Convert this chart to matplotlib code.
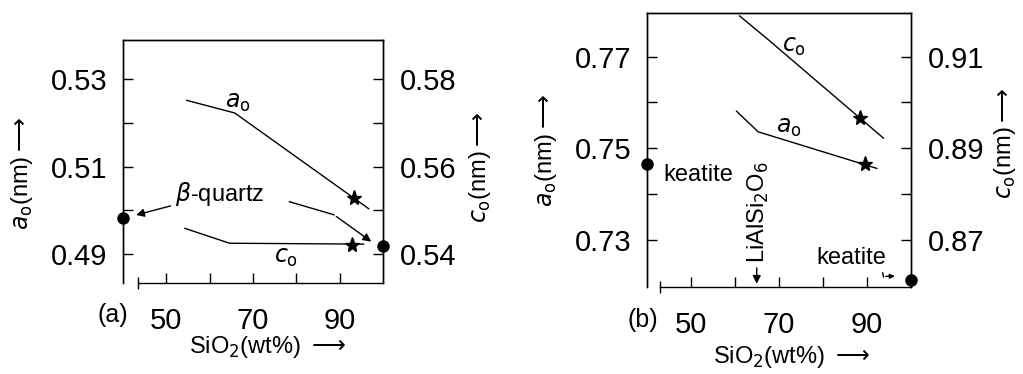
import matplotlib
matplotlib.use("Agg")
import matplotlib.pyplot as plt

plt.rcParams['font.family'] = ['Liberation Sans', 'DejaVu Sans']
plt.rcParams['mathtext.fontset'] = 'dejavusans'

# panel (a): beta-quartz solid solutions
a_ao_x = [54.7, 65.8, 96.7]
a_ao_y = [0.5252, 0.5223, 0.5004]
a_co_x = [54.3, 64.6, 95.5]
a_co_y = [0.5459, 0.5425, 0.5423]
a_star_ao = (93.2, 0.5029)
a_star_co = (92.9, 0.5420)
a_quartz_ao = (40, 0.4982)
a_quartz_co = (100, 0.5418)

# panel (b): keatite solid solutions
b_co_x = [61.1, 67.5, 93.8]
b_co_y = [0.9189, 0.9138, 0.8922]
b_ao_x = [60.4, 65.3, 92.3]
b_ao_y = [0.7581, 0.7536, 0.7456]
b_star_co = (88.5, 0.8965)
b_star_ao = (89.5, 0.7465)
b_keatite_ao = (40, 0.7465)
b_keatite_co = (100, 0.8612)

xticks = [50, 60, 70, 80, 90]
xticklabels = ['50', '', '70', '', '90']

fig = plt.figure(figsize=(10.23, 3.74), dpi=100)
ax1 = fig.add_axes([0.1202, 0.2433, 0.2542, 0.6497])
ax2 = fig.add_axes([0.6322, 0.2326, 0.2581, 0.7334])

lbl = 17
tick_fs = 21
arrow_kw = dict(arrowstyle='-|>', color='k', lw=1.0, mutation_scale=12)
ARR = r'$\longrightarrow$'


def style(ax, tw, ylim, yticks, ylabels, tyticks, tylabels, xstart):
    ax.set_xlim(40, 100)
    ax.set_ylim(*ylim)
    tw.set_ylim(ylim[0] + (tyticks[0] - yticks[0]), ylim[1] + (tyticks[0] - yticks[0]))
    ax.set_xticks(xticks)
    ax.set_xticklabels(xticklabels)
    ax.set_xticks([xstart], minor=True)
    ax.set_yticks(yticks)
    ax.set_yticklabels(ylabels)
    tw.set_yticks(tyticks)
    tw.set_yticklabels(tylabels)
    ax.tick_params(axis='both', which='major', direction='in', length=7, width=1,
                   labelsize=tick_fs)
    ax.tick_params(axis='x', pad=17)
    ax.tick_params(axis='y', pad=11)
    ax.tick_params(axis='x', which='minor', direction='inout', length=8, width=1)
    ax.tick_params(axis='y', which='minor', left=False)
    tw.tick_params(axis='y', direction='in', length=7, width=1, labelsize=tick_fs, pad=12)
    ax.spines['bottom'].set_bounds(xstart, 100)
    for s in ax.spines.values():
        s.set_linewidth(1.0)
    for s in tw.spines.values():
        s.set_linewidth(1.0)


# ---- panel (a)
tw1 = ax1.twinx()
style(ax1, tw1, (0.4834, 0.539),
      [0.49, 0.50, 0.51, 0.52, 0.53], ['0.49', '', '0.51', '', '0.53'],
      [0.54, 0.55, 0.56, 0.57, 0.58], ['0.54', '', '0.56', '', '0.58'], 43.5)
tw1.spines['bottom'].set_visible(False)

ax1.plot(a_ao_x, a_ao_y, color='k', lw=1.0)
tw1.plot(a_co_x, a_co_y, color='k', lw=1.0)
ax1.plot(*a_star_ao, marker='*', color='k', ms=11, clip_on=False)
tw1.plot(*a_star_co, marker='*', color='k', ms=11, clip_on=False)
ax1.plot(*a_quartz_ao, marker='o', color='k', ms=8, clip_on=False)
tw1.plot(*a_quartz_co, marker='o', color='k', ms=8, clip_on=False, zorder=5)

ax1.text(66.5, 0.5246, r'$a_{\rm o}$', fontsize=lbl, ha='center', va='center')
ax1.text(77.7, 0.4891, r'$c_{\rm o}$', fontsize=lbl, ha='center', va='center')
ax1.text(52.1, 0.5037, r'$\beta$-quartz', fontsize=lbl, ha='left', va='center')
ax1.annotate('', xy=(42.4, 0.4988), xytext=(51.6, 0.5012), arrowprops=arrow_kw)
ax1.plot([78.4, 88.7], [0.5020, 0.4990], color='k', lw=1.0)
ax1.annotate('', xy=(97.8, 0.4925), xytext=(88.7, 0.4990), arrowprops=arrow_kw)

# ---- panel (b)
tw2 = ax2.twinx()
style(ax2, tw2, (0.7197, 0.7796),
      [0.73, 0.74, 0.75, 0.76, 0.77], ['0.73', '', '0.75', '', '0.77'],
      [0.87, 0.88, 0.89, 0.90, 0.91], ['0.87', '', '0.89', '', '0.91'], 43.0)
tw2.spines['bottom'].set_visible(False)

tw2.plot(b_co_x, b_co_y, color='k', lw=1.0)
ax2.plot(b_ao_x, b_ao_y, color='k', lw=1.0)
tw2.plot(*b_star_co, marker='*', color='k', ms=11, clip_on=False)
ax2.plot(*b_star_ao, marker='*', color='k', ms=11, clip_on=False)
ax2.plot(*b_keatite_ao, marker='o', color='k', ms=8, clip_on=False)
tw2.plot(*b_keatite_co, marker='o', color='k', ms=8, clip_on=False, zorder=5)

ax2.text(73.5, 0.7721, r'$c_{\rm o}$', fontsize=lbl, ha='center', va='center')
ax2.text(72.3, 0.7544, r'$a_{\rm o}$', fontsize=lbl, ha='center', va='center')
ax2.text(43.7, 0.7442, 'keatite', fontsize=lbl, ha='left', va='center')
ax2.text(78.5, 0.7260, 'keatite', fontsize=lbl, ha='left', va='center')
ax2.text(65.3, 0.7250, r'LiAlSi$_2$O$_6$', fontsize=lbl, rotation=90,
         ha='center', va='bottom')
ax2.annotate('', xy=(65.0, 0.7198), xytext=(65.0, 0.7245), arrowprops=arrow_kw)
ax2.plot([93.6, 93.8], [0.7228, 0.7219], color='k', lw=1.0)
ax2.annotate('', xy=(97.0, 0.7221), xytext=(93.7, 0.7220),
             arrowprops=dict(arrowstyle='-|>', color='k', lw=1.0, mutation_scale=7))

# ---- outer labels
fig.text(0.1105, 0.158, '(a)', fontsize=tick_fs - 3, ha='center', va='center')
fig.text(0.6285, 0.144, '(b)', fontsize=tick_fs - 3, ha='center', va='center')
fig.text(0.262, 0.072, r'SiO$_2$(wt%) ' + ARR, fontsize=lbl, ha='center', va='center')
fig.text(0.774, 0.045, r'SiO$_2$(wt%) ' + ARR, fontsize=lbl, ha='center', va='center')
fig.text(0.0215, 0.537, r'$a_{\rm o}$(nm)' + ARR, fontsize=lbl, rotation=90,
         ha='center', va='center')
fig.text(0.469, 0.553, r'$c_{\rm o}$(nm)' + ARR, fontsize=lbl, rotation=90,
         ha='center', va='center')
fig.text(0.534, 0.599, r'$a_{\rm o}$(nm)' + ARR, fontsize=lbl, rotation=90,
         ha='center', va='center')
fig.text(0.982, 0.618, r'$c_{\rm o}$(nm)' + ARR, fontsize=lbl, rotation=90,
         ha='center', va='center')

fig.savefig('out.png', dpi=100)
